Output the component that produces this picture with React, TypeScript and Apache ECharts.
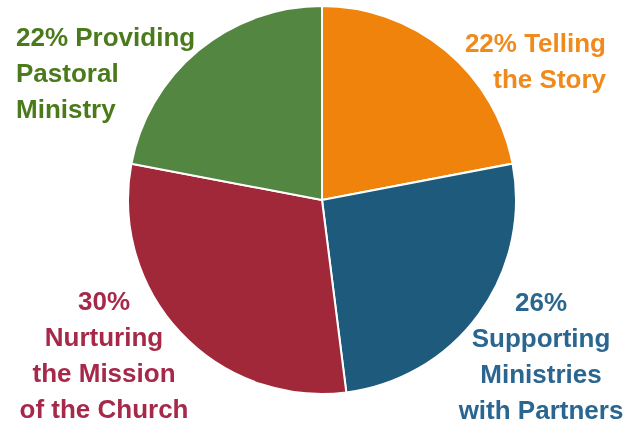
import React, { useEffect, useRef } from "react";
import * as echarts from "echarts";

const names = [
  "Telling\nthe Story",
  "Supporting\nMinistries\nwith Partners",
  "Nurturing\nthe Mission\nof the Church",
  "Providing\nPastoral\nMinistry",
];
const values = [22, 26, 30, 22];
const sliceColors = ["#F0830B", "#1E5A7B", "#A02838", "#528641"];
const labelColors = ["#F08A1C", "#2A6690", "#A6294A", "#4B7A1C"];
// percentage on same line as first word, or on its own line
const pctOwnLine = [false, true, true, false];

const labelPos = [
  { x: 606, y: 61, align: "right" },
  { x: 541, y: 356, align: "center" },
  { x: 104, y: 355, align: "center" },
  { x: 16, y: 73, align: "left" },
];

export default function App() {
  const ref = useRef<HTMLDivElement>(null);
  useEffect(() => {
    const chart = echarts.init(ref.current!, null, { renderer: "svg" });
    chart.setOption({
      animation: false,
      series: [
        {
          type: "pie",
          center: [322, 200],
          radius: 194,
          startAngle: 90,
          clockwise: true,
          avoidLabelOverlap: false,
          itemStyle: { borderColor: "#ffffff", borderWidth: 2 },
          labelLine: { show: false },
          data: values.map((v, i) => ({
            value: v,
            name: names[i],
            itemStyle: { color: sliceColors[i] },
            label: {
              show: true,
              position: "outside",
              color: labelColors[i],
              fontFamily: "'Liberation Sans', Arial, sans-serif",
              fontWeight: "bold",
              fontSize: 26,
              lineHeight: 36,
              align: labelPos[i].align,
              formatter: () =>
                v + "%" + (pctOwnLine[i] ? "\n" : " ") + names[i],
            },
          })),
          labelLayout: (params: any) => {
            const p = labelPos[params.dataIndex];
            return {
              x: p.x,
              y: p.y,
              align: p.align,
              verticalAlign: "middle",
            };
          },
        },
      ],
    });
    return () => chart.dispose();
  }, []);
  return (
    <div
      ref={ref}
      style={{ position: "fixed", left: 0, top: 0, width: 626, height: 424 }}
    />
  );
}
